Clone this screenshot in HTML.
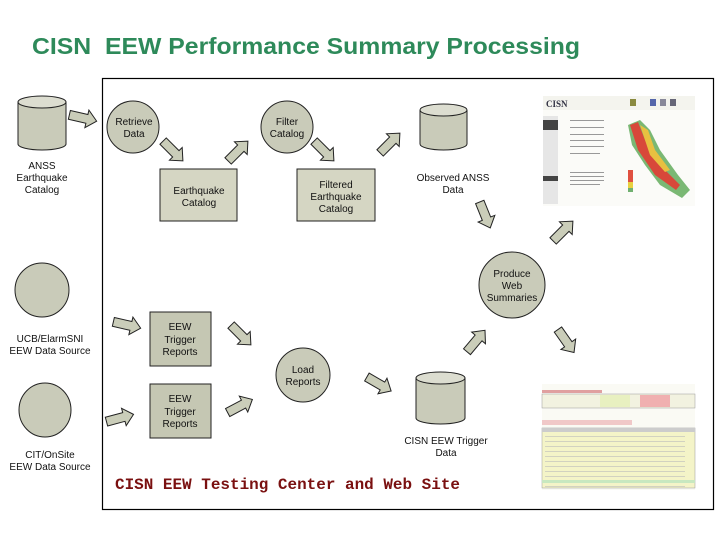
<!DOCTYPE html>
<html><head><meta charset="utf-8"><style>
body{margin:0;width:720px;height:540px;background:#fff;overflow:hidden}
svg{display:block}
text{font-family:"Liberation Sans",sans-serif;font-size:10px;fill:#111}
</style></head><body>
<svg width="720" height="540" viewBox="0 0 720 540">
<defs>
<path id="ar" d="M-14,-4.5 L4,-4.5 L4,-9 L14,0 L4,9 L4,4.5 L-14,4.5Z" fill="#cacdb9" stroke="#222" stroke-width="1"/>
</defs>
<text x="32" y="54" textLength="548" lengthAdjust="spacingAndGlyphs" xml:space="preserve" style="font-size:23px;font-weight:bold;fill:#2e8a5a">CISN  EEW Performance Summary Processing</text>
<rect x="102.5" y="78.5" width="611" height="431" fill="none" stroke="#000" stroke-width="1.2"/>
<g fill="#c9cbb9" stroke="#222" stroke-width="1">
<path d="M18,102 L18,144 A24,6 0 0 0 66,144 L66,102"/><ellipse cx="42" cy="102" rx="24" ry="6" fill="#dcddd0"/>
<path d="M420,110 L420,144 A23.5,6 0 0 0 467,144 L467,110"/><ellipse cx="443.5" cy="110" rx="23.5" ry="6" fill="#dcddd0"/>
<path d="M416,378 L416,418 A24.5,6 0 0 0 465,418 L465,378"/><ellipse cx="440.5" cy="378" rx="24.5" ry="6" fill="#dcddd0"/>
<circle cx="133" cy="127" r="26"/>
<circle cx="287" cy="127" r="26"/>
<circle cx="512" cy="285" r="33"/>
<circle cx="42" cy="290" r="27"/>
<ellipse cx="45" cy="410" rx="26" ry="27"/>
<circle cx="303" cy="375" r="27"/>
</g>
<g fill="#d5d6c3" stroke="#222" stroke-width="1">
<rect x="160" y="169" width="77" height="52"/>
<rect x="297" y="169" width="78" height="52"/>
<rect x="150" y="312" width="61" height="54" fill="#c5c7b3"/>
<rect x="150" y="384" width="61" height="54" fill="#c5c7b3"/>
</g>
<use href="#ar" transform="translate(83,118) rotate(13)"/>
<use href="#ar" transform="translate(173,151) rotate(45)"/>
<use href="#ar" transform="translate(238,151) rotate(-45)"/>
<use href="#ar" transform="translate(324,151) rotate(45)"/>
<use href="#ar" transform="translate(390,143) rotate(-45)"/>
<use href="#ar" transform="translate(485,215) rotate(68)"/>
<use href="#ar" transform="translate(563,231) rotate(-45)"/>
<use href="#ar" transform="translate(566,341) rotate(55)"/>
<use href="#ar" transform="translate(379,384) rotate(30)"/>
<use href="#ar" transform="translate(476,341) rotate(-50)"/>
<use href="#ar" transform="translate(127,325) rotate(13)"/>
<use href="#ar" transform="translate(120,418) rotate(-15)"/>
<use href="#ar" transform="translate(241,335) rotate(45)"/>
<use href="#ar" transform="translate(240,406) rotate(-28)"/>
<g text-anchor="middle">
<text x="42" y="169">ANSS</text><text x="42" y="181">Earthquake</text><text x="42" y="193">Catalog</text>
<text x="134" y="125">Retrieve</text><text x="134" y="137">Data</text>
<text x="287" y="125">Filter</text><text x="287" y="137">Catalog</text>
<text x="199" y="194">Earthquake</text><text x="199" y="206">Catalog</text>
<text x="336" y="188">Filtered</text><text x="336" y="200">Earthquake</text><text x="336" y="212">Catalog</text>
<text x="453" y="181">Observed ANSS</text><text x="453" y="193">Data</text>
<text x="512" y="277">Produce</text><text x="512" y="289">Web</text><text x="512" y="301">Summaries</text>
<text x="50" y="342">UCB/ElarmSNI</text><text x="50" y="354">EEW Data Source</text>
<text x="50" y="458">CIT/OnSite</text><text x="50" y="470">EEW Data Source</text>
<text x="180" y="330">EEW</text><text x="180" y="343">Trigger</text><text x="180" y="355">Reports</text>
<text x="180" y="402">EEW</text><text x="180" y="415">Trigger</text><text x="180" y="427">Reports</text>
<text x="303" y="373">Load</text><text x="303" y="385">Reports</text>
<text x="446" y="444">CISN EEW Trigger</text><text x="446" y="456">Data</text>
</g>
<text x="115" y="489" textLength="345" lengthAdjust="spacingAndGlyphs" style="font-family:'Liberation Mono',monospace;font-size:15.5px;font-weight:bold;fill:#7a1010">CISN EEW Testing Center and Web Site</text>
<g>
<rect x="543" y="96" width="152" height="110" fill="#fbfbf8"/>
<rect x="543" y="96" width="152" height="14" fill="#f4f4ee"/>
<text x="546" y="107" style="font-size:9px;font-family:'Liberation Serif',serif;font-weight:bold;fill:#334">CISN</text>
<rect x="630" y="99" width="6" height="7" fill="#8a8a40"/><rect x="650" y="99" width="6" height="7" fill="#5566aa"/><rect x="660" y="99" width="6" height="7" fill="#889"/><rect x="670" y="99" width="6" height="7" fill="#667"/>
<rect x="543" y="116" width="15" height="88" fill="#e6e6e6"/>
<rect x="543" y="120" width="15" height="10" fill="#444"/>
<rect x="543" y="176" width="15" height="5" fill="#444"/>
<g fill="#999"><rect x="570" y="120" width="34" height="1"/><rect x="570" y="127" width="34" height="1"/><rect x="570" y="134" width="34" height="1"/><rect x="570" y="140" width="34" height="1"/><rect x="570" y="146" width="34" height="1"/><rect x="570" y="153" width="30" height="1"/><rect x="570" y="172" width="34" height="1"/><rect x="570" y="176" width="34" height="1"/><rect x="570" y="180" width="34" height="1"/><rect x="570" y="184" width="30" height="1"/></g>
<path d="M628,125 L640,120 L650,130 L660,150 L678,175 L690,190 L682,198 L660,185 L645,165 L632,145Z" fill="#7ab874"/>
<path d="M630,125 L638,122 L645,140 L660,165 L680,185 L676,190 L655,175 L638,150Z" fill="#d8483a"/>
<path d="M640,125 L648,130 L655,150 L670,170 L665,172 L650,155Z" fill="#e8c040"/>
<rect x="628" y="170" width="5" height="22" fill="#e05040"/><rect x="628" y="182" width="5" height="6" fill="#e8d040"/><rect x="628" y="188" width="5" height="4" fill="#70b070"/>
</g>
<g>
<rect x="542" y="384" width="153" height="106" fill="#fafaf4"/>
<rect x="542" y="390" width="60" height="3" fill="#e0a0a0"/>
<rect x="542" y="394" width="153" height="14" fill="#f2f2e0" stroke="#999" stroke-width="0.5"/>
<rect x="600" y="395" width="30" height="12" fill="#e8f0c0"/><rect x="640" y="395" width="30" height="12" fill="#f0b0b0"/>
<rect x="542" y="420" width="90" height="5" fill="#f0c8c8"/>
<rect x="542" y="428" width="153" height="60" fill="#f4f4c8" stroke="#999" stroke-width="0.5"/>
<rect x="542" y="428" width="153" height="4" fill="#ccc"/>
<rect x="542" y="480" width="153" height="3" fill="#c8e8c0"/>
<g fill="#bbb"><rect x="545" y="436" width="140" height="0.6"/><rect x="545" y="441" width="140" height="0.6"/><rect x="545" y="446" width="140" height="0.6"/><rect x="545" y="451" width="140" height="0.6"/><rect x="545" y="456" width="140" height="0.6"/><rect x="545" y="461" width="140" height="0.6"/><rect x="545" y="466" width="140" height="0.6"/><rect x="545" y="471" width="140" height="0.6"/><rect x="545" y="476" width="140" height="0.6"/><rect x="545" y="486" width="140" height="0.6"/></g>
</g>
</svg>
</body></html>
